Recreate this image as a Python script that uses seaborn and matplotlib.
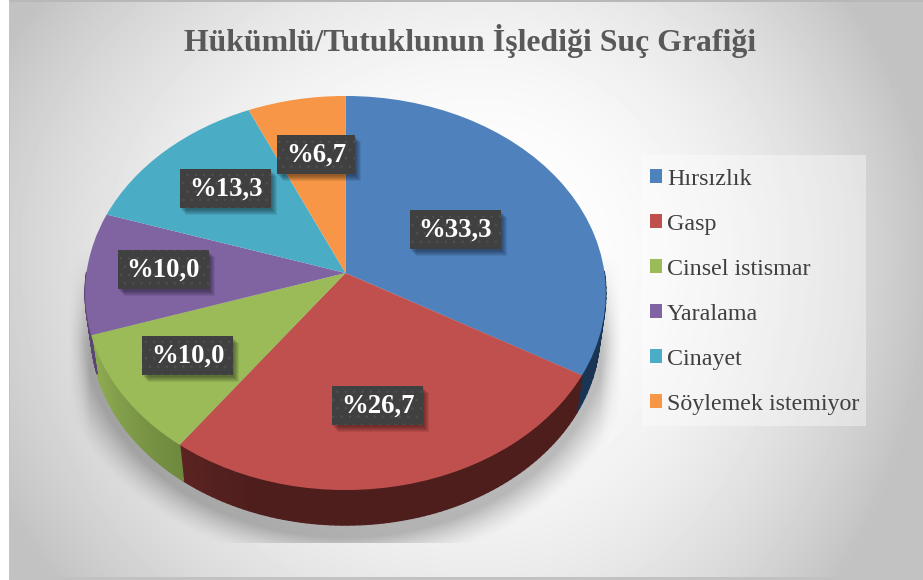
import numpy as np
import matplotlib
matplotlib.use("Agg")
import matplotlib.pyplot as plt
from matplotlib.colors import to_rgb
from matplotlib.patches import Rectangle
from matplotlib.path import Path
from matplotlib.transforms import Transform
from matplotlib.collections import PolyCollection
import seaborn as sns

title = "Hükümlü/Tutuklunun İşlediği Suç Grafiği"
categories = ["Hırsızlık", "Gasp", "Cinsel istismar", "Yaralama", "Cinayet", "Söylemek istemiyor"]
values = [33.3, 26.7, 10.0, 10.0, 13.3, 6.7]
colors = ["#4F81BD", "#C0504D", "#9BBB59", "#8064A2", "#4BACC6", "#F79646"]
side_light = ["#2A4A70", "#722D2B", "#8CA851", "#5A4674", "#35788A", "#AD6931"]
side_dark = ["#1A3553", "#4E1E1D", "#5E7733", "#3D2F4F", "#245563", "#77481F"]

W, H = 923, 580
CX, CY, A, B, K = 345.5, 273.0, 259.0, 195.0, 0.1015
DEPTH, SHRINK = 40.0, 0.977

sns.set_theme(style="white")
plt.rcParams["font.family"] = ["Liberation Serif", "DejaVu Serif"]
plt.rcParams["hatch.linewidth"] = 0.6


class Proj(Transform):
    input_dims = output_dims = 2

    def __init__(self, scale=1.0, dy=0.0):
        super().__init__()
        self.scale, self.dy = scale, dy

    def transform_non_affine(self, v):
        v = np.asarray(v, float)
        x, y = v[:, 0], v[:, 1]
        d = 1 + K * y
        return np.column_stack([CX + self.scale * A * x / d,
                                CY + self.dy - self.scale * B * y / d])

    def transform_path_non_affine(self, path):
        return Path(self.transform_non_affine(path.vertices), path.codes)


fig = plt.figure(figsize=(W / 100, H / 100), dpi=100)
ax = fig.add_axes([0, 0, 1, 1])

# background: radial gradient plus the soft shadow under the pie
yy, xx = np.mgrid[0:H, 0:W]
dx = (xx - 480) / np.where(xx < 480, 520, 435)
dy = (yy - 250) / np.where(yy < 250, 420, 520)
r = np.hypot(dx, dy)
bg = np.clip(1.0 - 0.22 * r ** 2.2, 0.76, 1.0)
ex = (xx - 345) / 262
ey = (yy - 325) / 212
rho = np.hypot(ex, ey)
shadow = 0.24 * np.clip(1 - (rho - 1) / 0.14, 0, 1) ** 1.4
shadow *= np.clip((yy - 250) / 90, 0, 1)
shadow *= (yy < 543)
shadow *= np.clip(1 - (np.abs(xx - 345) - 255) / 22, 0, 1)
bg = bg - shadow
ax.imshow(bg, cmap="gray", vmin=0, vmax=1, extent=(0, W, H, 0), aspect="auto",
          interpolation="bilinear", zorder=0)

# pie faces
wedges, _ = ax.pie(values, colors=colors, startangle=90, counterclock=False,
                   radius=1.0, frame=True, wedgeprops={"linewidth": 0})
proj_top = Proj()
proj_low = Proj(SHRINK, DEPTH)
for w in wedges:
    w.set_transform(proj_top + ax.transData)
    w.set_zorder(3)

# pie side walls (only the front of the rim shows)
for w, cl, cd in zip(wedges, side_light, side_dark):
    t = np.radians(np.linspace(w.theta1, w.theta2, 80))
    p = np.column_stack([np.cos(t), np.sin(t)])
    up, lo = proj_top.transform_non_affine(p), proj_low.transform_non_affine(p)
    light, dark = np.array(to_rgb(cl)), np.array(to_rgb(cd))
    polys, cols = [], []
    for i in range(len(t) - 1):
        if p[i, 1] > 0.0 and p[i + 1, 1] > 0.0:
            continue
        tm = np.degrees(t[i]) % 360
        f = np.clip((tm - 205) / 45, 0, 1)  # light on the left, dark towards the front
        polys.append([up[i], up[i + 1], lo[i + 1], lo[i]])
        cols.append(light + (dark - light) * f)
    if polys:
        ax.add_collection(PolyCollection(polys, facecolors=cols, edgecolors=cols,
                                         linewidths=1.0, zorder=2))

ax.set_xlim(0, W)
ax.set_ylim(H, 0)
ax.set_aspect("auto")
ax.axis("off")

# frame
ax.add_patch(Rectangle((0, 0), 8.5, H, fc="white", ec="none", zorder=1))
ax.add_patch(Rectangle((8.5, 0), 1.5, H, fc="#C4C4C4", ec="none", zorder=1))
ax.add_patch(Rectangle((8.5, 0), W, 2, fc="#B8B8B8", ec="none", zorder=1))
ax.add_patch(Rectangle((8.5, 577), W, 3, fc="#C2C2C2", ec="none", zorder=1))

# data labels
label_centers = [(455, 229), (377.5, 405.5), (187.5, 355.5), (163, 269), (225.5, 188.5), (316, 154)]
for v, (x, y) in zip(values, label_centers):
    s = "%" + f"{v:.1f}".replace(".", ",")
    bw = 91 if v >= 10 else 78
    for o in (7, 6, 5, 4, 3, 2):
        ax.add_patch(Rectangle((x - bw / 2 + o - 1, y - 19.5 + o), bw, 39, fc="black", alpha=0.08,
                               ec="none", zorder=4.5))
    ax.add_patch(Rectangle((x - bw / 2, y - 19.5), bw, 39, fc="#404040", ec="#4F4F4F", lw=0,
                           hatch="..", zorder=5))
    ax.text(x, y + 1, s, ha="center", va="center", color="white", fontsize=19.3,
            fontweight="bold", zorder=6)

# title
ax.text(470, 41, title, ha="center", va="center", color="#595959", fontsize=22.9,
        fontweight="bold", zorder=6)

# legend
ax.add_patch(Rectangle((642, 155), 224, 271, fc="white", alpha=0.38, ec="none", zorder=3.5))
leg = ax.legend(wedges, categories, loc="upper left", bbox_to_anchor=(650 / W, 1 - 168.6 / H),
                bbox_transform=fig.transFigure, frameon=False, fontsize=17.3, labelcolor="#404040",
                handlelength=0.5, handleheight=0.5, handletextpad=0.2,
                labelspacing=1.0, borderpad=0, borderaxespad=0)
leg.set_zorder(4)
fig.savefig("out.png", dpi=100)
